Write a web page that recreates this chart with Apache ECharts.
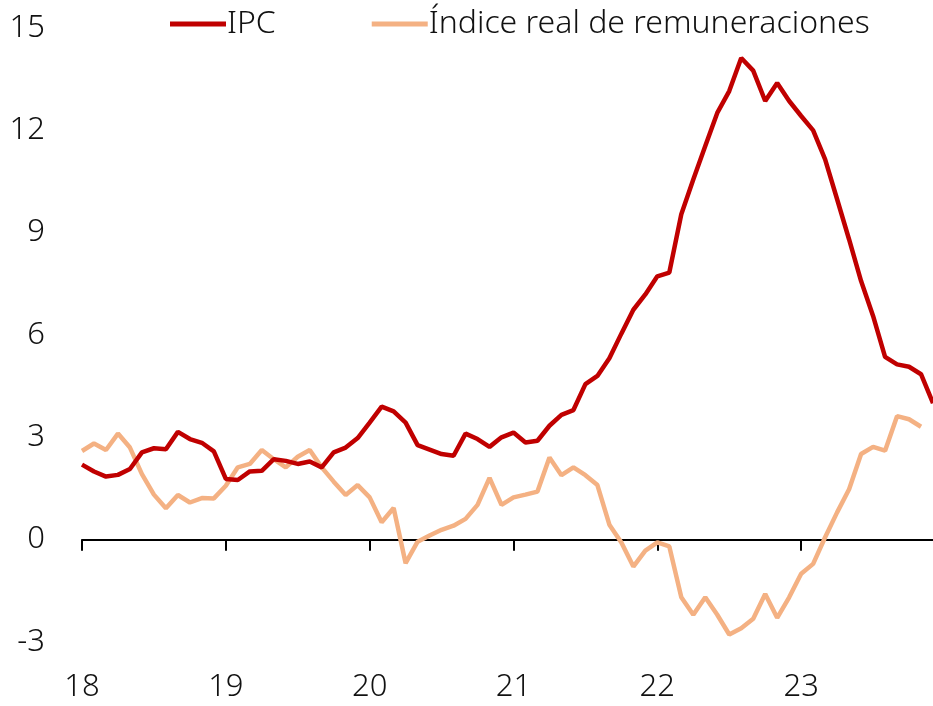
<!DOCTYPE html>
<html>
<head>
<meta charset="utf-8">
<script src="https://cdn.jsdelivr.net/npm/echarts@6/dist/echarts.min.js"></script>
<style>
  html, body { margin: 0; padding: 0; background: #fff; }
  #chart { width: 933px; height: 706px; }
</style>
</head>
<body>
<div id="chart"></div>
<script>
// monthly, Jan 2018 .. Dec 2023
const years = ["18", "19", "20", "21", "22", "23"];
const months = [];
years.forEach((y) => {
  for (let m = 1; m <= 12; m++) months.push(y + "-" + m);
});

// IPC (% a/a)
const ipc = [
  2.2, 2.0, 1.85, 1.9, 2.07, 2.56, 2.68, 2.65, 3.16, 2.95, 2.84, 2.59,
  1.78, 1.75, 2.0, 2.02, 2.36, 2.31, 2.22, 2.29, 2.12, 2.56, 2.7, 2.98,
  3.43, 3.9, 3.76, 3.43, 2.77, 2.64, 2.51, 2.46, 3.11, 2.95, 2.72, 3.0,
  3.14, 2.85, 2.9, 3.34, 3.66, 3.8, 4.56, 4.8, 5.32, 6.04, 6.74, 7.19,
  7.72, 7.83, 9.54, 10.56, 11.54, 12.51, 13.15, 14.12, 13.75, 12.86, 13.39, 12.86,
  12.42, 12.0, 11.15, 9.98, 8.8, 7.58, 6.56, 5.36, 5.14, 5.07, 4.85, 4.0,
];

// Índice real de remuneraciones (% a/a)
const remReal = [
  2.6, 2.82, 2.63, 3.11, 2.7, 1.92, 1.32, 0.92, 1.31, 1.09, 1.22, 1.21,
  1.58, 2.12, 2.22, 2.63, 2.36, 2.12, 2.43, 2.63, 2.12, 1.7, 1.31, 1.6,
  1.24, 0.51, 0.93, -0.69, -0.06, 0.12, 0.29, 0.41, 0.61, 1.02, 1.81, 1.02,
  1.24, 1.32, 1.41, 2.41, 1.89, 2.12, 1.89, 1.6, 0.44, -0.08, -0.79, -0.32,
  -0.08, -0.2, -1.69, -2.2, -1.69, -2.2, -2.78, -2.6, -2.32, -1.59, -2.29, -1.69,
  -1.0, -0.71, 0.07, 0.8, 1.48, 2.51, 2.72, 2.61, 3.62, 3.53, 3.31, null,
];

const font = "Noto Sans";
const yearTick = (i) => i % 12 === 0;

const myChart = echarts.init(document.getElementById("chart"));

const option = {
  animation: false,
  textStyle: { fontFamily: font },
  legend: {
    top: 3,
    left: 165,
    itemWidth: 56,
    itemHeight: 5,
    itemGap: 96,
    icon: "rect",
    textStyle: { fontSize: 32, color: "#111", fontFamily: font, fontWeight: 300, padding: [0, 0, 0, -4] },
    data: ["IPC", "Índice real de remuneraciones"],
  },
  grid: { left: 82, right: 0, top: 28, bottom: 64 },
  xAxis: [
    {
      type: "category",
      data: months,
      boundaryGap: false,
      axisLine: { onZero: true, lineStyle: { color: "#000", width: 2 } },
      axisTick: { interval: yearTick, length: 11, lineStyle: { color: "#000", width: 2 } },
      axisLabel: { show: false },
    },
    {
      type: "category",
      data: months,
      boundaryGap: false,
      position: "bottom",
      axisLine: { show: false },
      axisTick: { show: false },
      axisLabel: {
        interval: yearTick,
        formatter: (v) => v.split("-")[0],
        fontSize: 31,
        fontWeight: 300,
        color: "#111",
        margin: 30,
      },
    },
  ],
  yAxis: {
    type: "value",
    min: -3,
    max: 15,
    interval: 3,
    axisLine: { show: false },
    axisTick: { show: false },
    splitLine: { show: false },
    axisLabel: { fontSize: 31, fontWeight: 300, color: "#111", margin: 37 },
  },
  series: [
    {
      name: "IPC",
      type: "line",
      data: ipc,
      symbol: "none",
      color: "#C00000",
      lineStyle: { width: 4.5, color: "#C00000" },
      z: 3,
    },
    {
      name: "Índice real de remuneraciones",
      type: "line",
      data: remReal,
      symbol: "none",
      color: "#F4B183",
      lineStyle: { width: 4.5, color: "#F4B183" },
      z: 2,
    },
  ],
};

myChart.setOption(option);
</script>
</body>
</html>
